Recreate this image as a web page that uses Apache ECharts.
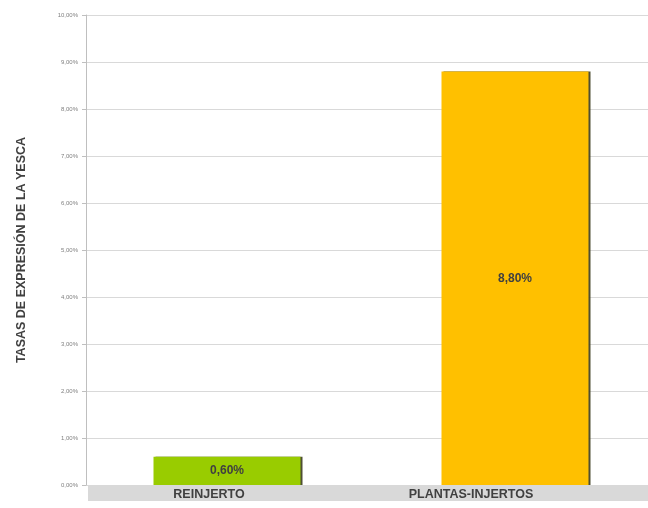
<!DOCTYPE html>
<html><head><meta charset="utf-8">
<script src="https://cdn.jsdelivr.net/npm/echarts@6/dist/echarts.min.js"></script>
<style>html,body{margin:0;padding:0;background:#fff}#c{width:648px;height:508px}</style>
</head><body><div id="c"></div>
<script>
const categories = ['REINJERTO', 'PLANTAS-INJERTOS'];
const values = [0.60, 8.80];
const barColors = ['#99cc00', '#ffc000'];
const yAxisTitle = 'TASAS DE EXPRESIÓN DE LA YESCA';
const yMin = 0, yMax = 10, yStep = 1;

const fmt = v => v.toFixed(2).replace('.', ',') + '%';
const font = '"Liberation Sans", Arial, sans-serif';

const chart = echarts.init(document.getElementById('c'));
chart.setOption({
  animation: false,
  grid: { left: 83, width: 576, top: 15, bottom: 23, outerBoundsMode: 'none', containLabel: false },
  graphic: [{ type: 'rect', z: -10, shape: { x: 88, y: 486, width: 560, height: 15 }, style: { fill: '#d9d9d9' } }],
  xAxis: {
    type: 'category', data: categories,
    axisLine: { show: false }, axisTick: { show: false },
    axisLabel: {
      margin: 3, interval: 0,
      formatter: (v, i) => '{c' + i + '|' + v + '}',
      rich: {
        c0: { fontFamily: font, fontWeight: 'bold', fontSize: 12.5, color: '#404040', padding: [0, 36, 0, 0] },
        c1: { fontFamily: font, fontWeight: 'bold', fontSize: 12.5, color: '#404040', padding: [0, 88, 0, 0] }
      }
    }
  },
  yAxis: {
    type: 'value', min: yMin, max: yMax, interval: yStep, offset: -3,
    name: yAxisTitle, nameLocation: 'middle', nameGap: 58, nameRotate: 90,
    nameTextStyle: { fontFamily: font, fontWeight: 'bold', fontSize: 12.5, color: '#404040' },
    axisLine: { show: true, lineStyle: { color: '#bfbfbf' } },
    axisTick: { show: true, length: 4, lineStyle: { color: '#bfbfbf' } },
    axisLabel: { formatter: fmt, fontFamily: font, fontSize: 6, color: '#808080', margin: 8 },
    splitLine: { lineStyle: { color: '#d9d9d9' } }
  },
  series: [{
    type: 'bar', barWidth: 147,
    data: values.map((v, i) => ({ value: v, itemStyle: { color: barColors[i] } })),
    itemStyle: { shadowColor: 'rgba(60,60,30,0.9)', shadowBlur: 0, shadowOffsetX: 2, shadowOffsetY: 0 },
    label: {
      show: true, position: 'inside', formatter: p => fmt(p.value),
      fontFamily: font, fontWeight: 'bold', fontSize: 12, color: '#404040'
    }
  }]
});
</script></body></html>
